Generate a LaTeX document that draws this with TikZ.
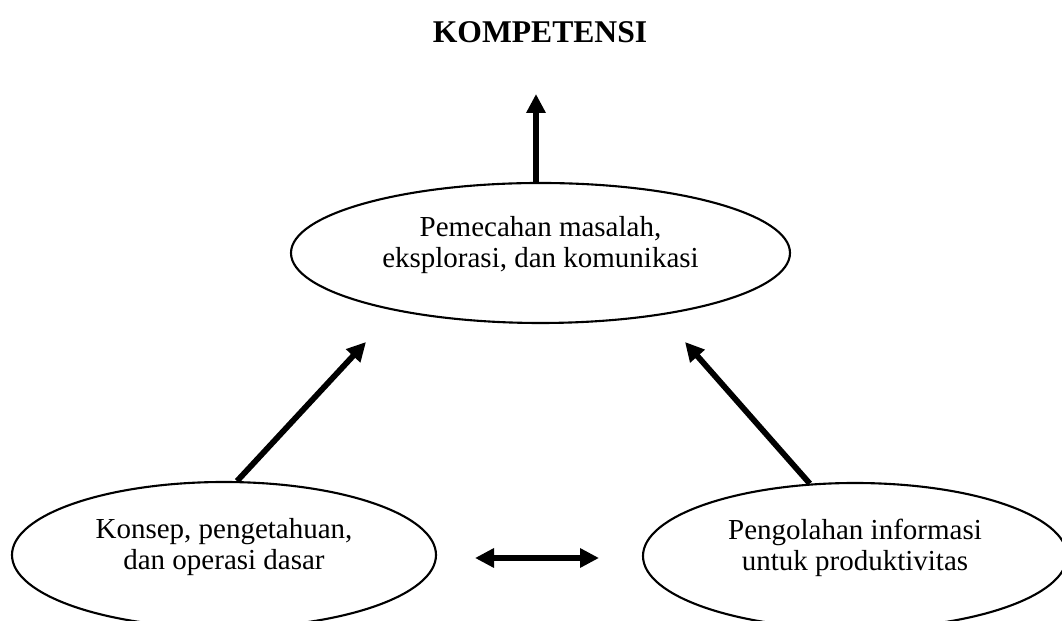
\documentclass[tikz,border=0pt]{standalone}
\usepackage{fontspec}
\setmainfont{Liberation Serif}
\usetikzlibrary{shapes.geometric,arrows.meta}
\newcommand{\isi}{\fontsize{16.5}{17.5}\selectfont}
\newcommand{\judulfont}{\fontsize{18}{20}\selectfont\bfseries}
\begin{document}
\begin{tikzpicture}[
		elips/.style={draw, ellipse, line width=1.2pt, minimum width=8.48cm, minimum height=2.92cm, inner sep=0pt, align=center, text depth=0.45cm, font=\isi},
		panah/.style={line width=3.3pt, -{Triangle[length=0.38cm,width=0.37cm]}}]
				\useasboundingbox (0,0) rectangle (21.24,12.42);
				\node[font=\judulfont] (judul) at (10.8,11.78) {KOMPETENSI};
				\node[elips, minimum width=9.98cm, minimum height=2.8cm] (atas) at (10.81,7.36) {Pemecahan masalah,\\eksplorasi, dan komunikasi};
				\node[elips] (konsep) at (4.48,1.32) {Konsep, pengetahuan,\\dan operasi dasar};
				\node[elips] (olah) at (17.1,1.3) {Pengolahan informasi\\untuk produktivitas};
				\coordinate (puncak) at (10.72,10.54);
				\coordinate (ujungkiri) at (7.32,5.58);
				\coordinate (ujungkanan) at (13.7,5.58);
				\coordinate (kiri) at (9.5,1.26);
				\coordinate (kanan) at (11.98,1.26);
				\draw[panah] (puncak |- atas.north) -- (puncak);
				\draw[panah] (konsep.80) -- (ujungkiri);
				\draw[panah] (olah.122) -- (ujungkanan);
				\draw[panah, {Triangle[length=0.38cm,width=0.37cm]}-{Triangle[length=0.38cm,width=0.37cm]}] (kiri) -- (kanan);
			\end{tikzpicture}
\end{document}
